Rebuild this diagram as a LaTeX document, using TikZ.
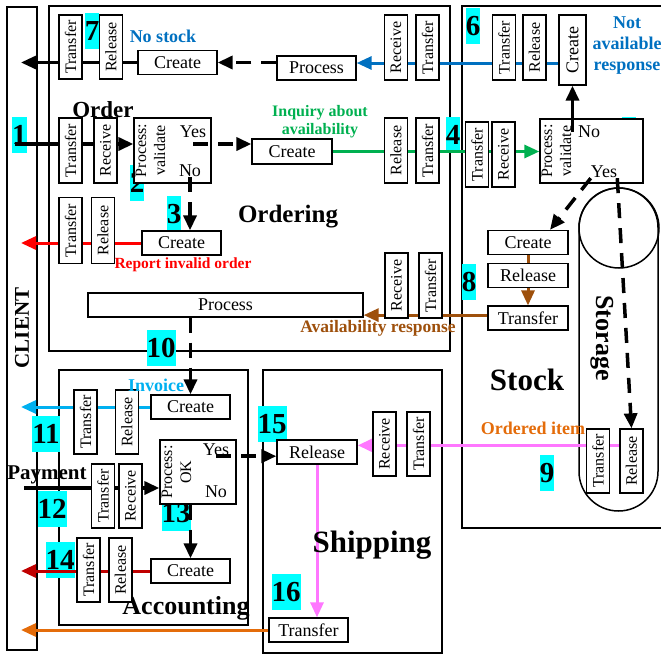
\documentclass[tikz,border=0pt]{standalone}
\usepackage{fontspec}
\setmainfont{Liberation Serif}
\usetikzlibrary{arrows.meta, positioning, calc}
\definecolor{stockBlue}{RGB}{0,112,192}
\definecolor{invBlue}{RGB}{0,176,240}
\definecolor{inqGreen}{RGB}{0,176,80}
\definecolor{errRed}{RGB}{255,0,0}
\definecolor{payRed}{RGB}{192,0,0}
\definecolor{availBrown}{RGB}{158,80,12}
\definecolor{itemOrange}{RGB}{228,108,10}
\definecolor{itemPink}{RGB}{255,119,255}
\definecolor{tagCyan}{RGB}{0,255,255}
\pgfdeclarelayer{bg}
\pgfdeclarelayer{tags}
\pgfdeclarelayer{flows}
\pgfsetlayers{bg,tags,flows,main}
\tikzset{
  vbox/.style={
    draw, line width=1.3pt, fill=white, inner sep=0pt,
    minimum width=23pt, minimum height=64pt,
    font=\fontsize{16}{16}\selectfont,
  },
  hbox/.style={
    draw, line width=1.3pt, fill=white, inner sep=0pt,
    minimum width=79pt, minimum height=24pt,
    font=\fontsize{18}{18}\selectfont,
  },
  decbox/.style={
    draw, line width=1.3pt, fill=white,
    minimum width=77pt, minimum height=65pt,
  },
  dectext/.style={
    rotate=90, anchor=north, align=center, inner sep=1pt,
    font=\fontsize{16}{19}\selectfont,
  },
  answer/.style={inner sep=0pt, font=\fontsize{18}{18}\selectfont},
  zone/.style={draw, line width=1.8pt},
  numtag/.style={
    fill=tagCyan, inner sep=0pt, minimum height=36pt,
    font=\bfseries\fontsize{29}{29}\selectfont,
  },
  flowlabel/.style 2 args={
    text=#1, align=center, inner sep=0pt,
    font=\bfseries\fontsize{#2}{#2}\selectfont,
  },
  areaname/.style={inner sep=0pt, font=\bfseries\fontsize{#1}{#1}\selectfont},
  flow/.style={line width=3pt, -{Triangle[length=15pt, width=13pt]}},
  decflow/.style={flow, line width=3.5pt, dash pattern=on 15pt off 10pt},
}
\newcommand{\vtext}[1]{\rotatebox{90}{#1}}

\begin{document}
\begin{tikzpicture}[x=1pt, y=-1pt]
\useasboundingbox (0,0) rectangle (661,654);

% =========================================================================
% areas
% =========================================================================
\begin{pgfonlayer}{bg}
\draw[zone] (7,7) rectangle (37,650);
\draw[zone] (49,6) rectangle (450,351);
\draw[zone] (664,6) -- (462,6) -- (462,528) -- (664,528);
\draw[zone] (59,370) rectangle (248,625);
\draw[zone] (263,370) rectangle (442,653);
\draw[line width=1.5pt, rounded corners=39.5pt] (579,188) rectangle (658,511);
\draw[line width=1.5pt] (619,228) circle[radius=40pt];
\end{pgfonlayer}

\node[areaname=25] (ordering) at (288,217) {Ordering};
\node[areaname=31] (stock) at (527,380) {Stock};
\node[areaname=31] (shipping) at (372,545) {Shipping};
\node[areaname=26] (accounting) at (186,608) {Accounting};
\node[areaname=21, rotate=90] (client) at (22,328) {CLIENT};
\node[areaname=26, rotate=-90] (storage) at (602,338) {Storage};
\node[areaname=23] (order) at (103,110) {Order};
\node[areaname=21] (payment) at (47,475) {Payment};

% =========================================================================
% top row: no stock / not available
% =========================================================================
\node[vbox] (nsTrans) at (70.5,47) {\vtext{Transfer}};
\node[vbox] (nsRel) at (111,47) {\vtext{Release}};
\node[hbox] (nsCreate) at (177.5,62.5) {Create};
\node[hbox] (nsProc) at (316.5,68) {Process};
\node[vbox, minimum height=65pt] (naRecv) at (396,47.5) {\vtext{Receive}};
\node[vbox, minimum height=65pt] (naTrans) at (427.5,47.5) {\vtext{Transfer}};
\node[vbox, minimum height=65pt] (naTrans2) at (504,47.5) {\vtext{Transfer}};
\node[vbox, minimum height=65pt] (naRel) at (534.5,47.5) {\vtext{Release}};
\node[vbox, minimum width=27pt, minimum height=70pt,
      font=\fontsize{18}{18}\selectfont] (naCreate) at (572.5,50) {\vtext{Create}};

\node[flowlabel={stockBlue}{18}] (noStock) at (163,36) {No stock};
\node[flowlabel={stockBlue}{18}] (notAvail) at (627,46) {Not\\[3pt]available\\[3pt]response};

% =========================================================================
% order row
% =========================================================================
\node[vbox, minimum height=65pt] (ordTrans) at (70.5,150.5) {\vtext{Transfer}};
\node[vbox, minimum height=65pt] (ordRecv) at (105.5,150.5) {\vtext{Receive}};
\node[decbox] (ordCheck) at (172.5,150.5) {};
\node[dectext] (ordCheckTxt) at ([xshift=1pt]ordCheck.west) {Process:\\validate};
\node[answer] (ordYes) at (193,132) {Yes};
\node[answer] (ordNo) at (190,171) {No};

\node[hbox, minimum width=80pt, minimum height=25pt] (inqCreate) at (292,151.5) {Create};
\node[vbox, minimum height=65pt] (inqRel) at (396,150.5) {\vtext{Release}};
\node[vbox, minimum height=65pt] (inqTrans) at (427.5,150.5) {\vtext{Transfer}};
\node[vbox, minimum height=65pt] (inqTrans2) at (477,154.5) {\vtext{Transfer}};
\node[vbox, minimum height=65pt] (inqRecv) at (503.5,154.5) {\vtext{Receive}};
\node[decbox, minimum width=103pt, minimum height=64pt] (stCheck) at (591.5,151) {};
\node[dectext] (stCheckTxt) at ([xshift=1pt]stCheck.west) {Process:\\validate};
\node[answer] (stNo) at (589,132) {No};
\node[answer] (stYes) at (604,172) {Yes};

\node[flowlabel={inqGreen}{16}] (inquiry) at (320,122) {Inquiry about\\[2pt]availability};

% =========================================================================
% invalid order + availability
% =========================================================================
\node[vbox, minimum height=66pt] (repTrans) at (70.5,230.5) {\vtext{Transfer}};
\node[vbox, minimum height=66pt] (repRel) at (103,230.5) {\vtext{Release}};
\node[hbox] (repCreate) at (181.5,243) {Create};
\node[flowlabel={errRed}{15.5}] (report) at (183,265) {Report invalid order};

\node[hbox, minimum width=275pt] (invProc) at (225.5,305) {Process};
\node[vbox, minimum height=65pt] (avRecv) at (396.5,285.5) {\vtext{Receive}};
\node[vbox, minimum height=65pt] (avTrans) at (430.5,285.5) {\vtext{Transfer}};
\node[hbox, minimum width=80pt] (avCreate) at (528,242.5) {Create};
\node[hbox, minimum width=80pt, below=8pt of avCreate] (avRel) {Release};
\node[hbox, minimum width=80pt, below=17pt of avRel] (avTrans2) {Transfer};
\node[flowlabel={availBrown}{17.5}] (availResp) at (378,328) {Availability response};

% =========================================================================
% storage + shipping
% =========================================================================
\node[vbox] (itTrans) at (598,461) {\vtext{Transfer}};
\node[vbox] (itRel) at (631.5,461) {\vtext{Release}};
\node[flowlabel={itemOrange}{18}] (orderedItem) at (533,428) {Ordered item};

\node[vbox] (shRecv) at (384.5,444) {\vtext{Receive}};
\node[vbox] (shTrans) at (418.5,444) {\vtext{Transfer}};
\node[hbox, minimum width=80pt] (shRel) at (317,452) {Release};
\node[hbox] (shOut) at (308.5,630) {Transfer};

% =========================================================================
% accounting
% =========================================================================
\node[hbox] (invCreate) at (190.5,407) {Create};
\node[vbox] (invTrans) at (85.5,422) {\vtext{Transfer}};
\node[vbox] (invRel) at (127,422) {\vtext{Release}};
\node[flowlabel={invBlue}{18}] (invoice) at (156,385) {Invoice};

\node[vbox] (payTrans) at (103,496) {\vtext{Transfer}};
\node[vbox] (payRecv) at (130.5,496) {\vtext{Receive}};
\node[decbox, minimum width=76pt, minimum height=64pt] (payCheck) at (198,472) {};
\node[dectext] (payCheckTxt) at ([xshift=1pt]payCheck.west) {Process:\\OK};
\node[answer] (payYes) at (216,450) {Yes};
\node[answer] (payNo) at (216,492) {No};

\node[hbox] (errCreate) at (190.5,571) {Create};
\node[vbox] (errTrans) at (88.5,570) {\vtext{Transfer}};
\node[vbox] (errRel) at (120.5,570) {\vtext{Release}};

% =========================================================================
% step numbers
% =========================================================================
\begin{pgfonlayer}{tags}
\foreach \t/\x/\y in {1/19.5/135, 2/137/183, 3/174/214, 4/453/135, 5/629/135,
                      6/473/26, 7/92/31, 8/469/282, 9/547/473, 10/161/348,
                      11/46/434, 12/52/509, 13/176/513, 14/60/560,
                      15/272/424, 16/286/592}
  \node[numtag] (tag\t) at (\x,\y) {\t};
\end{pgfonlayer}

% =========================================================================
% arrows
% =========================================================================
\coordinate (toClient) at (21,0);
\coordinate (orderIn) at (15,144);
\coordinate (payIn) at (24,488);
\coordinate (naRow) at (0,63);
\coordinate (availRow) at ([yshift=3pt]avTrans2.west);
\coordinate (itemRow) at ([yshift=-17pt]itRel.north west);

\begin{pgfonlayer}{flows}
\draw[flow, stockBlue] (naCreate.west |- naRow) -- (nsProc.east |- naRow);
\draw[decflow] (nsProc.west |- nsCreate.east) -- (nsCreate.east);
\draw[flow] (nsCreate.west) -- (toClient |- nsCreate.west);

\draw[flow, line width=3.5pt] (orderIn) -- (ordCheck.west |- orderIn);
\draw[flow, inqGreen] (inqCreate.east) -- (stCheck.west |- inqCreate.east);
\draw[flow, errRed] (repCreate.west) -- (toClient |- repCreate.west);

\draw[line width=3pt, availBrown] (avCreate.south) -- (avRel.north);
\draw[flow, availBrown] (avRel.south) -- (avTrans2.north);
\draw[flow, availBrown] (availRow) -- (invProc.east |- availRow);

\draw[flow, itemPink, line width=3.5pt] (itemRow) -- (shRel.east |- itemRow);
\draw[flow, itemPink] (shRel.south) -- (shRel.south |- shOut.north);
\draw[flow, itemOrange] (shOut.west) -- (toClient |- shOut.west);

\draw[flow, invBlue] (invCreate.west) -- (toClient |- invCreate.west);
\draw[flow, line width=3.5pt] (payIn) -- (payCheck.west |- payIn);
\draw[flow, payRed] (errCreate.west) -- (toClient |- errCreate.west);
\end{pgfonlayer}

% decisions
\draw[decflow] (ordYes.south |- orderIn) -- (inqCreate.west |- orderIn);
\draw[decflow] (ordNo.south) -- (repCreate.north -| ordNo.south);
\draw[flow, line width=3.5pt] (naCreate.south |- stNo) -- (naCreate.south);
\draw[decflow] (stYes.south west) -- ([xshift=22pt]avCreate.north);
\draw[decflow] (stYes.south east) -- (itRel.north);
\draw[decflow] (invProc.south -| invCreate.north) -- (invCreate.north);
\draw[decflow] (payYes.south) -- (shRel.west |- payYes.south);
\draw[decflow] (payCheck.south -| errCreate.north) -- (errCreate.north);

\end{tikzpicture}
\end{document}
